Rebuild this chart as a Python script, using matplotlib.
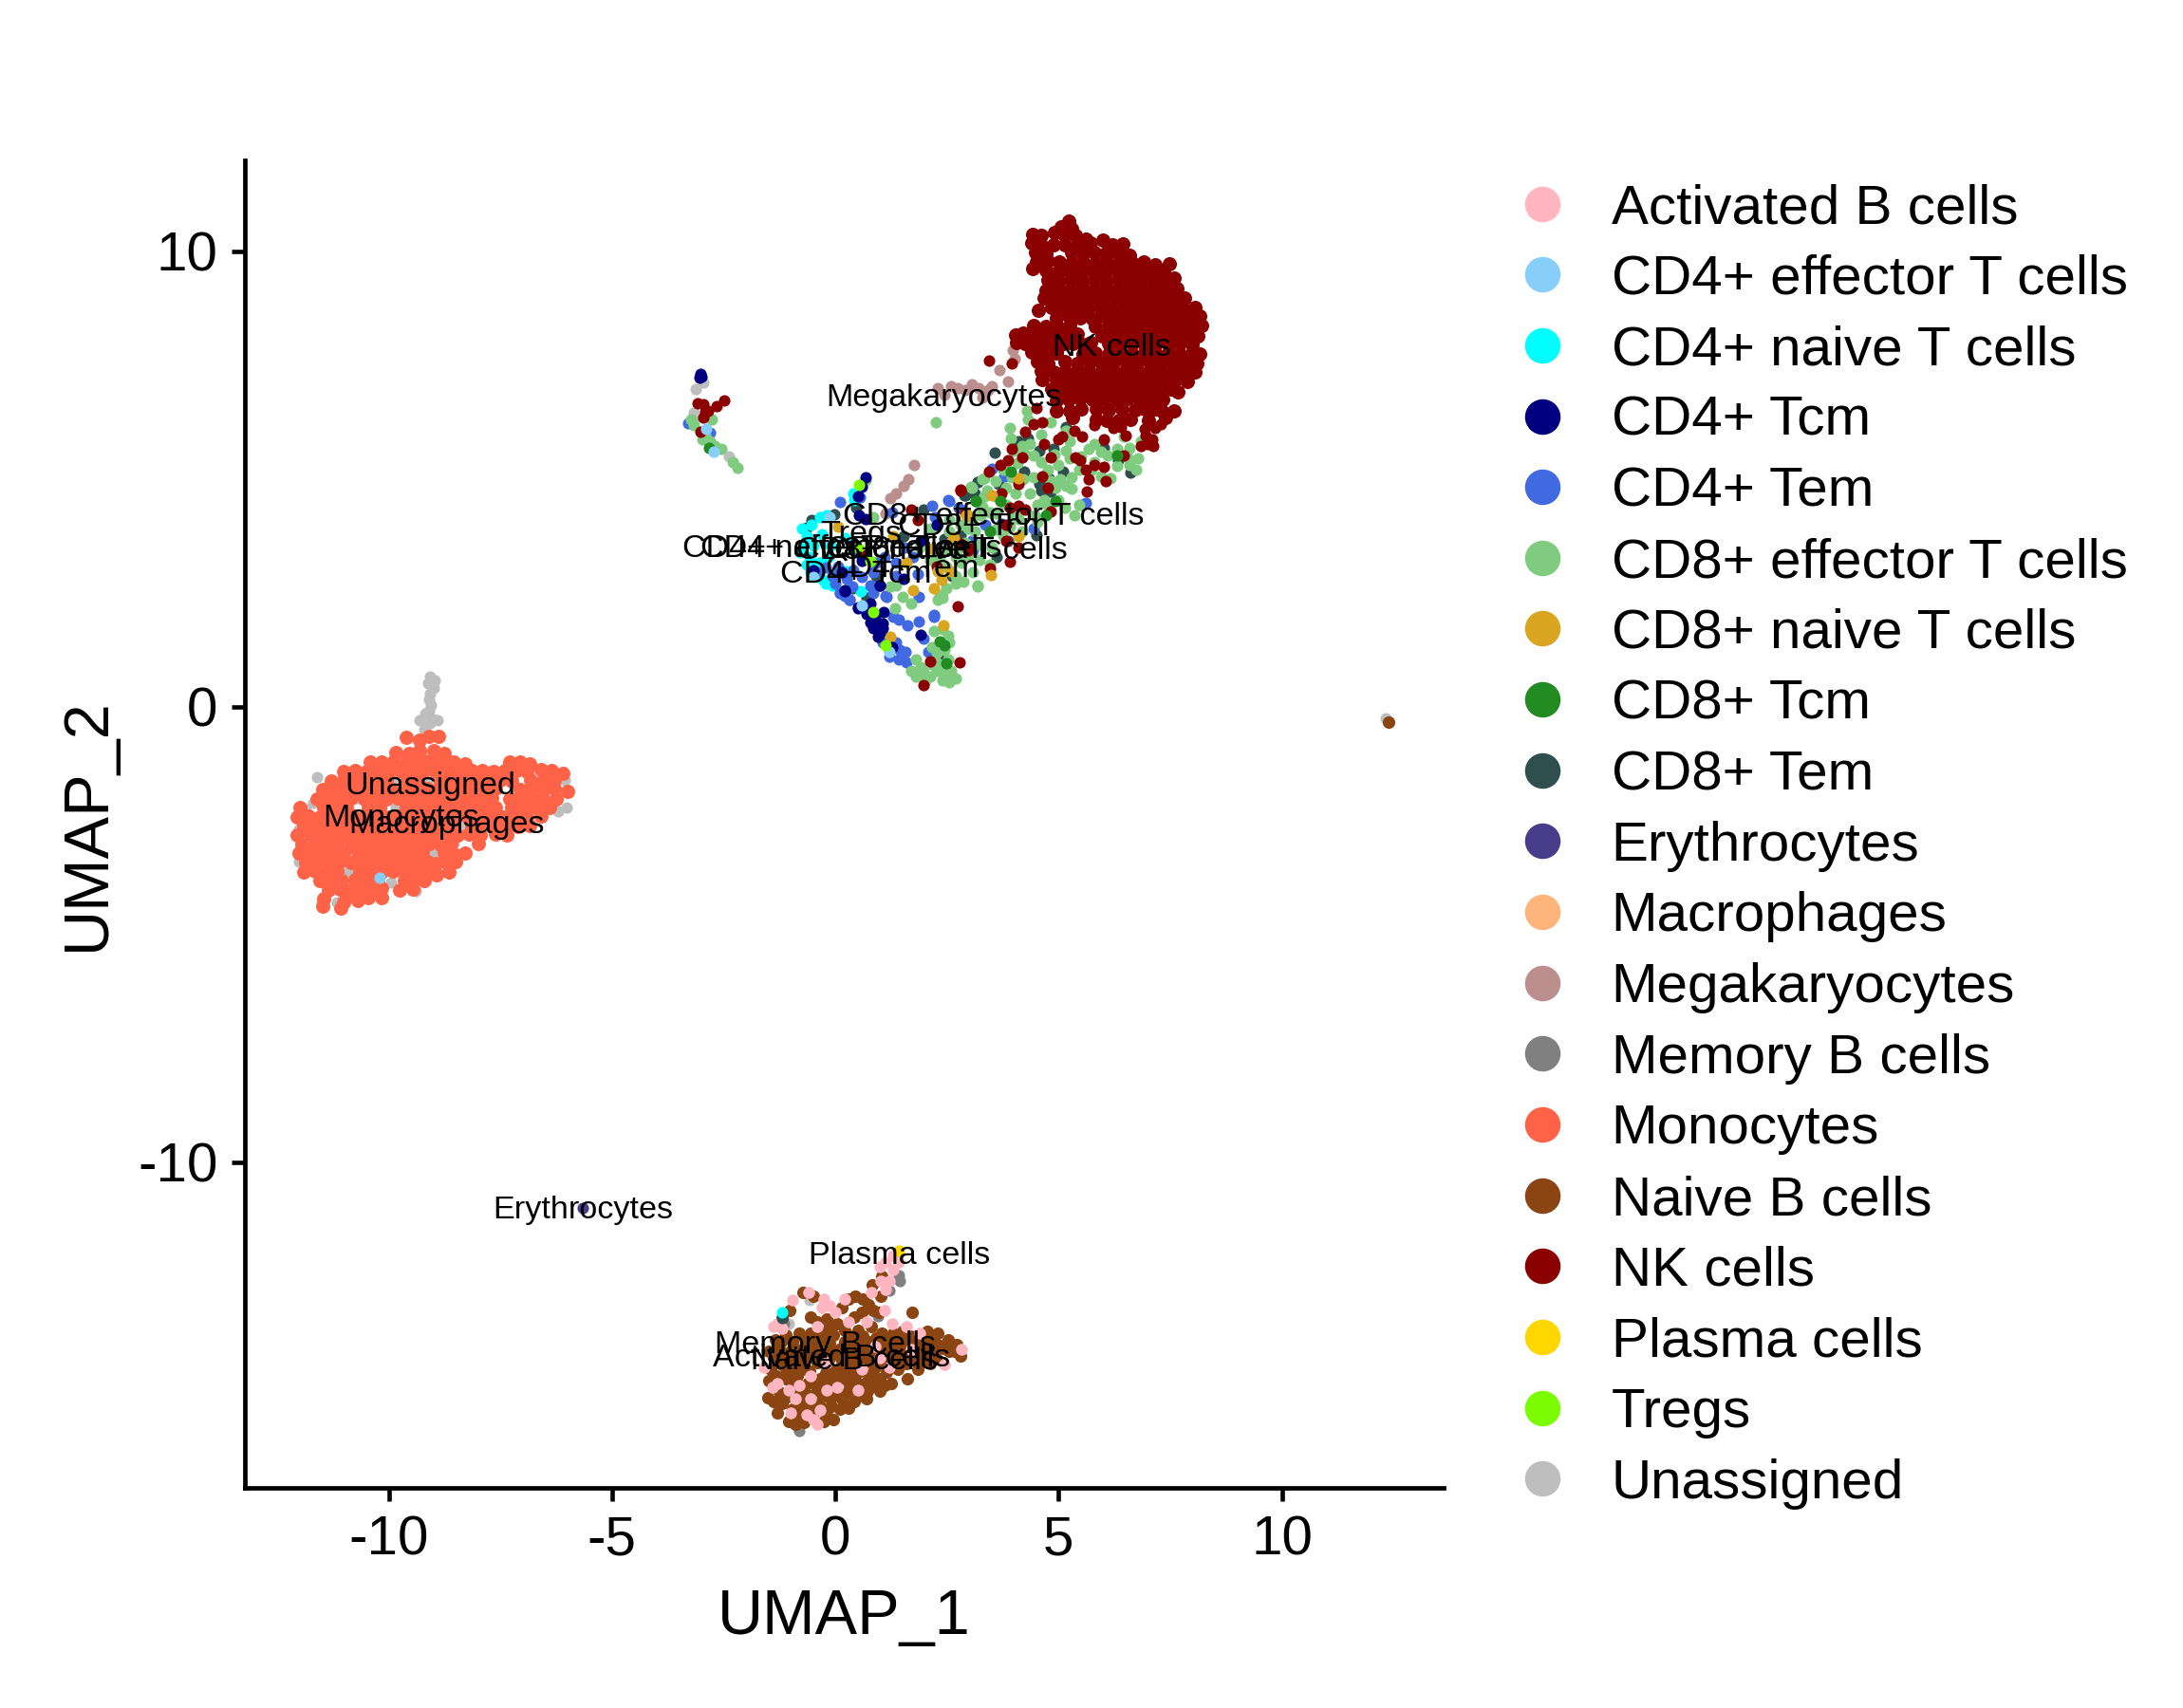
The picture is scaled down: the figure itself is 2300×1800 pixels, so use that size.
import matplotlib
matplotlib.use("Agg")
import matplotlib.pyplot as plt
from matplotlib.lines import Line2D

plt.rcParams['font.family'] = ['Liberation Sans', 'DejaVu Sans']

cell_types = ['Activated B cells', 'CD4+ effector T cells', 'CD4+ naive T cells', 'CD4+ Tcm', 'CD4+ Tem',
              'CD8+ effector T cells', 'CD8+ naive T cells', 'CD8+ Tcm', 'CD8+ Tem', 'Erythrocytes',
              'Macrophages', 'Megakaryocytes', 'Memory B cells', 'Monocytes', 'Naive B cells', 'NK cells',
              'Plasma cells', 'Tregs', 'Unassigned']
colors = ['#FFB6C1', '#87CEFA', '#00FFFF', '#000080', '#4169E1', '#7FCB7F', '#DAA520', '#228B22', '#2F4F4F',
          '#483D8B', '#FDB57B', '#BC8F8F', '#808080', '#FF6347', '#8B4513', '#8B0000', '#FFD700', '#7CFC00',
          '#BEBEBE']

unassigned = [(-9.07,0.66),(-8.98,0.58),(-9.12,0.52),(-9.0,0.42),(-9.08,0.3),(-9.1,0.16),(-9.05,0.04),(-9.1,-0.08),
              (-9.18,-0.14),(-9.31,-0.3),(-9.02,-0.28),(-8.9,-0.3),(-9.08,-0.36),(-9.2,-0.5),(-11.7,-2.1),(-11.85,-2.25),
              (-12.0,-2.7),(-12.0,-3.4),(-8.4,-2.6),(-6.05,-1.6),(-6.02,-2.2),(-9.85,-2.2),(-9.9,-1.6),(-9.1,-1.6),
              (-9.0,-3.2),(-8.55,-3.0),(-10.9,-3.6),(-11.3,-4.0),(-11.15,-4.3),(-9.55,-3.95),(-9.95,-3.85),(-6.2,-2.3),
              (-11.5,-4.32),(-11.6,-1.55),(-10.7,-2.0),(-8.9,-3.6),(-9.4,-4.05),
              (-0.57,-13.03),(-1.05,-13.55),(-0.9,-14.0),(2.0,-14.1),(12.33,-0.25),(-3.12,6.98),(-2.95,7.12),(-3.16,6.46),(-2.38,5.5),
              (1.81,0.76)]
macrophages = [(-9.0,-2.6)]
memory_b = [(1.45,-12.6),(1.42,-12.48),(1.21,-12.82),(0.96,-13.38),(-0.81,-15.9),(-1.15,-13.55),(-0.75,-14.3)]
activated_b = [(1.3,-12.05),(1.12,-12.2),(1.0,-12.3),(1.3,-12.35),(1.2,-12.6),(1.12,-12.8),(0.8,-12.85),(-0.6,-12.85),(-0.95,-13.02),
               (-1.3,-13.55),(-1.38,-13.6),(-0.25,-13.0),(-0.3,-13.2),(0.2,-13.0),(0.0,-13.3),(0.3,-13.5),(0.7,-13.5),(1.1,-13.25),
               (1.28,-13.55),(1.6,-13.6),(1.9,-13.75),(2.82,-14.1),(2.45,-14.45),(1.7,-14.1),(1.0,-14.3),(0.9,-14.05),(-0.4,-13.6),
               (-1.6,-14.5),(-1.3,-14.85),(-1.05,-15.0),(-0.8,-14.9),(-0.55,-15.2),(-1.0,-15.5),(-0.65,-15.55),(-0.35,-15.45),
               (-0.2,-15.0),(-0.9,-15.2),(0.6,-14.55),(0.5,-15.0),(0.05,-14.95),(-0.2,-14.4),(-0.55,-14.7),(1.2,-14.5),(-0.4,-15.75),
               (-0.12,-13.15),(-1.2,-13.65),(1.42,-12.2),(1.02,-12.6),(-0.5,-15.65),(-1.4,-14.95)]
naive_b = [(-0.72,-12.85),(-0.5,-12.95),(-1.02,-13.25),(-1.2,-13.42),(-0.55,-13.4),(-0.4,-13.5),(-0.2,-13.45),(0.05,-13.55),(0.15,-13.2),
           (0.3,-13.0),(0.45,-12.95),(0.62,-13.0),(0.75,-13.12),(0.85,-13.25),(0.98,-13.3),(1.02,-12.95),(0.82,-12.7),(0.6,-13.3),(0.42,-13.4),
           (0.2,-13.7),(0.5,-13.7),(0.8,-13.6),(1.05,-13.75),(1.3,-13.75),(1.5,-13.72),(1.72,-13.3),(1.05,-12.5),
           (2.05,-13.72),(2.3,-13.75),(2.52,-13.9),(2.72,-14.0),(2.8,-14.25),(2.55,-14.15),(2.3,-14.0),(2.05,-14.0),(1.8,-13.95),(1.55,-13.95),
           (1.3,-14.0),(1.05,-13.95),(0.75,-13.95),(0.45,-13.95),(0.2,-13.95),(-0.05,-13.8),(-0.3,-13.8),(-0.55,-13.75),(-0.8,-13.75),(-1.1,-13.8),(-1.35,-13.9),
           (-1.5,-14.15),(-1.25,-14.1),(-1.0,-14.15),(-0.75,-14.1),(-0.5,-14.05),(-0.25,-14.1),(0.0,-14.15),(0.25,-14.2),(0.5,-14.2),(0.75,-14.2),
           (1.0,-14.15),(1.25,-14.25),(1.5,-14.2),(1.75,-14.3),(2.0,-14.3),(2.25,-14.3),(1.62,-14.75),(1.85,-14.55),(1.4,-14.55),(1.15,-14.6),(0.9,-14.5),(0.65,-14.4),
           (0.4,-14.45),(0.15,-14.45),(-0.1,-14.55),(-0.4,-14.4),(-0.7,-14.45),(-0.95,-14.45),(-1.2,-14.45),(-1.45,-14.55),(-1.5,-14.8),(-1.1,-14.75),(-0.85,-14.7),
           (-0.35,-14.75),(-0.1,-14.8),(0.2,-14.75),(0.45,-14.7),(0.75,-14.75),(1.0,-14.75),(1.25,-14.85),(1.0,-15.02),(0.72,-15.02),(0.3,-15.02),
           (-1.52,-15.18),(-1.25,-15.05),(-0.7,-15.02),(-0.4,-15.0),(-0.1,-15.2),(0.15,-15.2),(0.42,-15.25),(0.7,-15.2),(-1.2,-15.3),(-0.75,-15.3),(-0.45,-15.3),
           (-0.8,-15.55),(-0.5,-15.5),(-0.2,-15.55),(0.1,-15.42),(0.3,-15.4),(-1.05,-15.7),(-0.9,-15.75),(-0.7,-15.72),(-0.25,-15.7),(-0.05,-15.65),(-1.3,-15.5),
           (-0.15,-13.65),(0.32,-13.82),(0.62,-13.82),(0.92,-13.85),(1.18,-13.88),(1.42,-13.85),(1.68,-13.82),(1.92,-13.85),(2.18,-13.88),(2.42,-14.08),(2.68,-14.15),(2.12,-14.15),(1.88,-14.15),(1.62,-14.1),
           (1.38,-14.12),(1.12,-14.05),(0.88,-14.28),(0.62,-14.05),(0.38,-14.08),(0.12,-14.08),(-0.12,-13.98),(-0.38,-13.95),(-0.65,-13.92),(-0.95,-13.95),(-1.22,-13.95),(-1.38,-14.3),(-1.12,-14.28),(-0.85,-14.28),
           (-0.6,-14.25),(-0.35,-14.22),(-0.12,-14.3),(0.12,-14.3),(0.38,-14.32),(0.62,-14.28),(1.1,-14.42),(1.35,-14.4),(1.6,-14.42),(1.85,-14.4),(2.12,-14.42),(0.02,-14.62),(0.28,-14.6),(0.55,-14.58),(0.82,-14.62),
           (1.1,-14.9),(0.85,-14.88),(0.58,-14.88),(0.32,-14.88),(0.05,-14.78),(-0.22,-14.62),(-0.58,-14.58),(-0.82,-14.58),(-1.08,-14.6),(-1.32,-14.7),(-0.98,-14.88),(-0.62,-14.85),(-0.42,-14.88),(-0.18,-14.92),
           (-1.38,-15.25),(-1.08,-15.15),(-0.85,-15.08),(-0.58,-15.12),(-0.28,-15.12),(0.02,-15.1),(0.2,-15.08),(0.55,-15.12),(-0.95,-15.42),(-0.62,-15.42),(-0.32,-15.38),(-0.08,-15.35),(0.2,-15.32)]
plasma = [(1.42,-11.95)]
monocytes = [(-9.6,-0.67),(-9.3,-0.73),(-9.1,-0.64),(-8.88,-0.65),(-9.3,-0.95),
             (-9.84,-1.0),(-9.55,-1.02),(-9.3,-0.98),(-9.0,-0.95),(-8.75,-1.02),
             (-10.41,-1.22),(-10.15,-1.2),(-9.9,-1.2),(-9.6,-1.22),(-9.35,-1.2),(-9.1,-1.18),(-8.85,-1.22),(-8.55,-1.2),(-8.28,-1.25),(-7.3,-1.22),(-7.05,-1.2),(-6.85,-1.25),
             (-11.0,-1.42),(-10.75,-1.4),(-10.5,-1.42),(-10.25,-1.4),(-10.0,-1.42),(-9.75,-1.4),(-9.5,-1.42),(-9.2,-1.4),(-8.95,-1.42),(-8.7,-1.4),(-8.42,-1.42),(-8.15,-1.4),(-7.9,-1.4),(-7.65,-1.42),(-7.4,-1.4),(-7.15,-1.4),(-6.9,-1.42),(-6.6,-1.38),(-6.35,-1.4),(-6.1,-1.45),
             (-11.28,-1.62),(-11.02,-1.6),(-10.8,-1.62),(-10.55,-1.6),(-10.3,-1.62),(-10.05,-1.6),(-9.6,-1.62),(-9.35,-1.6),(-8.85,-1.62),(-8.55,-1.6),(-8.3,-1.62),(-8.05,-1.6),(-7.8,-1.62),(-7.5,-1.6),(-7.25,-1.62),(-6.82,-1.6),(-6.55,-1.62),(-6.3,-1.6),
             (-11.48,-1.82),(-11.2,-1.8),(-10.95,-1.82),(-10.65,-1.8),(-10.4,-1.82),(-10.15,-1.8),(-9.9,-1.82),(-9.65,-1.8),(-9.4,-1.82),(-9.15,-1.8),(-8.9,-1.82),(-8.65,-1.8),(-8.4,-1.82),(-8.15,-1.8),(-7.85,-1.82),(-7.6,-1.8),(-7.05,-1.82),(-6.8,-1.8),(-6.55,-1.82),(-6.3,-1.8),(-6.0,-1.85),
             (-11.6,-2.02),(-11.35,-2.0),(-11.1,-2.02),(-10.85,-2.0),(-10.55,-2.02),(-10.3,-2.0),(-10.05,-2.02),(-9.8,-2.0),(-9.55,-2.02),(-9.25,-2.0),(-9.0,-2.02),(-8.75,-2.0),(-8.5,-2.02),(-8.2,-2.0),(-7.95,-2.02),(-7.7,-2.0),(-7.3,-2.02),(-7.05,-2.0),(-6.8,-2.02),(-6.55,-2.0),(-6.25,-2.02),
             (-11.98,-2.22),(-11.45,-2.2),(-11.2,-2.22),(-10.95,-2.2),(-10.45,-2.22),(-10.2,-2.2),(-9.6,-2.22),(-9.35,-2.2),(-9.1,-2.22),(-8.85,-2.2),(-8.6,-2.22),(-8.35,-2.2),(-8.1,-2.22),(-7.85,-2.2),(-7.6,-2.22),(-7.25,-2.2),(-6.95,-2.22),(-6.7,-2.2),(-6.4,-2.22),
             (-12.05,-2.42),(-11.8,-2.4),(-11.55,-2.42),(-11.3,-2.4),(-11.05,-2.42),(-10.8,-2.4),(-10.55,-2.42),(-10.3,-2.4),(-10.05,-2.42),(-9.8,-2.4),(-9.55,-2.42),(-9.3,-2.4),(-9.05,-2.42),(-8.75,-2.4),(-8.5,-2.42),(-8.25,-2.4),(-7.95,-2.42),(-7.7,-2.4),(-7.45,-2.42),(-7.15,-2.4),(-6.9,-2.42),(-6.6,-2.4),
             (-11.9,-2.62),(-11.65,-2.6),(-11.4,-2.62),(-11.15,-2.6),(-10.9,-2.62),(-10.65,-2.6),(-10.4,-2.62),(-10.15,-2.6),(-9.9,-2.62),(-9.65,-2.6),(-9.4,-2.62),(-9.15,-2.6),(-8.8,-2.62),(-8.55,-2.6),(-8.15,-2.62),(-7.9,-2.6),(-7.6,-2.62),(-7.35,-2.6),(-7.1,-2.62),(-6.85,-2.6),
             (-12.05,-2.82),(-11.75,-2.8),(-11.5,-2.82),(-11.25,-2.8),(-11.0,-2.82),(-10.75,-2.8),(-10.5,-2.82),(-10.25,-2.8),(-10.0,-2.82),(-9.75,-2.8),(-9.5,-2.82),(-9.25,-2.8),(-9.0,-2.82),(-8.75,-2.8),(-8.45,-2.82),(-8.2,-2.8),(-7.95,-2.82),(-7.6,-2.8),(-7.35,-2.82),
             (-11.95,-3.02),(-11.65,-3.0),(-11.4,-3.02),(-11.15,-3.0),(-10.85,-3.02),(-10.6,-3.0),(-10.35,-3.02),(-10.1,-3.0),(-9.85,-3.02),(-9.6,-3.0),(-9.35,-3.02),(-9.1,-3.0),(-8.85,-3.02),(-8.6,-3.0),(-8.0,-3.0),
             (-12.0,-3.22),(-11.78,-3.2),(-11.5,-3.22),(-11.25,-3.2),(-11.0,-3.22),(-10.7,-3.2),(-10.45,-3.22),(-10.2,-3.2),(-9.95,-3.22),(-9.7,-3.2),(-9.45,-3.22),(-9.25,-3.2),(-8.75,-3.22),(-8.5,-3.25),(-8.3,-3.22),
             (-11.85,-3.42),(-11.6,-3.4),(-11.35,-3.42),(-11.1,-3.4),(-10.85,-3.42),(-10.6,-3.4),(-10.35,-3.42),(-10.1,-3.4),(-9.85,-3.42),(-9.6,-3.4),(-9.35,-3.42),(-9.15,-3.4),(-8.95,-3.45),(-8.7,-3.42),(-8.5,-3.4),
             (-11.9,-3.62),(-11.65,-3.6),(-11.4,-3.62),(-11.15,-3.6),(-10.65,-3.62),(-10.4,-3.6),(-10.15,-3.62),(-9.9,-3.6),(-9.65,-3.62),(-9.4,-3.6),(-9.15,-3.62),(-8.93,-3.7),(-8.65,-3.62),
             (-11.55,-3.82),(-11.3,-3.8),(-11.05,-3.82),(-10.75,-3.8),(-10.5,-3.82),(-10.25,-3.8),(-9.65,-3.82),(-9.4,-3.8),(-9.2,-3.82),
             (-11.35,-4.02),(-11.1,-4.0),(-10.85,-4.02),(-10.6,-4.0),(-10.35,-4.02),(-10.15,-3.98),(-9.75,-4.02),(-9.45,-4.0),
             (-11.45,-4.22),(-10.95,-4.2),(-10.7,-4.25),(-10.45,-4.2),(-10.15,-4.18),(-11.48,-4.38),(-11.08,-4.42),(-11.0,-4.3)]
nk_cells = [(5.05,10.55),(5.22,10.67),(5.3,10.5),
            (4.42,10.38),(4.6,10.35),(4.9,10.42),(5.12,10.38),(5.38,10.35),(5.6,10.28),(6.0,10.25),
            (4.39,10.18),(4.62,10.15),(4.88,10.15),(5.15,10.15),(5.42,10.12),(5.72,10.18),(6.2,10.15),(6.44,10.17),
            (4.48,9.98),(4.72,9.95),(5.3,9.98),(5.55,9.95),(5.8,9.98),(6.05,9.95),(6.3,9.98),(6.58,9.92),
            (4.5,9.78),(4.75,9.8),(5.02,9.78),(5.28,9.75),(5.55,9.78),(5.82,9.75),(6.08,9.78),(6.35,9.76),(6.62,9.78),(6.9,9.78),(7.15,9.7),
            (4.42,9.62),(4.72,9.58),(4.98,9.55),(5.22,9.58),(5.48,9.55),(5.75,9.58),(6.02,9.55),(6.28,9.58),(6.55,9.55),(6.82,9.58),(7.08,9.55),(7.35,9.58),(7.48,9.72),
            (4.75,9.38),(5.02,9.35),(5.28,9.38),(5.55,9.35),(5.82,9.38),(6.08,9.35),(6.35,9.38),(6.62,9.35),(6.88,9.38),(7.15,9.35),(7.42,9.38),(7.58,9.42),
            (4.72,9.15),(4.98,9.18),(5.25,9.15),(5.52,9.18),(5.78,9.15),(6.05,9.18),(6.32,9.15),(6.58,9.18),(6.85,9.15),(7.12,9.18),(7.38,9.15),(7.65,9.18),
            (4.68,8.98),(4.92,8.95),(5.18,8.98),(5.45,8.95),(5.72,8.98),(5.98,8.95),(6.25,8.98),(6.52,8.95),(6.78,8.98),(7.05,8.95),(7.32,8.98),(7.58,8.95),(7.82,8.98),
            (4.55,8.71),(4.85,8.78),(5.12,8.75),(5.38,8.78),(5.65,8.75),(5.92,8.78),(6.18,8.75),(6.45,8.78),(6.72,8.75),(6.98,8.78),(7.25,8.75),(7.52,8.78),(7.78,8.75),(8.05,8.78),
            (4.95,8.55),(5.22,8.58),(5.48,8.55),(5.75,8.52),(6.02,8.58),(6.28,8.55),(6.55,8.58),(6.82,8.55),(7.08,8.58),(7.35,8.55),(7.62,8.58),(7.88,8.55),(8.15,8.58),
            (4.45,8.38),(4.72,8.35),(4.98,8.35),(5.25,8.38),(5.82,8.35),(6.12,8.38),(6.38,8.35),(6.65,8.38),(6.92,8.35),(7.18,8.38),(7.45,8.35),(7.72,8.38),(7.98,8.35),(8.2,8.38),
            (4.04,8.17),(4.2,8.2),(4.35,8.18),(4.62,8.15),(4.88,8.18),(5.15,8.15),(5.42,8.18),(5.98,8.15),(6.25,8.18),(6.52,8.15),(6.78,8.18),(7.05,8.15),(7.32,8.18),(7.58,8.15),(7.85,8.18),(8.12,8.15),
            (4.05,8.0),(4.25,7.98),(4.5,7.95),(4.78,7.98),(5.05,7.95),(5.32,7.98),(5.55,7.95),(5.72,8.0),(6.12,7.98),(6.38,7.95),(6.65,7.98),(6.92,7.95),(7.18,7.98),(7.45,7.95),(7.72,7.98),(7.98,7.95),
            (4.4,7.8),(4.68,7.78),(4.95,7.78),(5.55,7.75),(5.82,7.78),(6.12,7.75),(6.38,7.78),(6.65,7.75),(6.92,7.78),(7.18,7.75),(7.45,7.78),(7.72,7.75),(7.98,7.78),(8.15,7.75),
            (4.53,7.58),(4.75,7.55),(5.15,7.58),(5.42,7.55),(5.72,7.58),(5.98,7.55),(6.25,7.58),(6.52,7.55),(6.78,7.58),(7.05,7.55),(7.32,7.58),(7.58,7.55),(7.85,7.58),(8.1,7.55),
            (4.62,7.38),(4.88,7.35),(5.15,7.38),(5.42,7.35),(5.68,7.38),(5.95,7.35),(6.22,7.38),(6.48,7.35),(6.75,7.38),(7.02,7.35),(7.28,7.38),(7.55,7.35),(7.82,7.38),(8.05,7.35),
            (4.63,7.19),(4.95,7.18),(5.22,7.15),(5.48,7.18),(5.75,7.15),(6.02,7.18),(6.28,7.15),(6.55,7.18),(6.82,7.15),(7.08,7.18),(7.35,7.15),(7.62,7.18),(7.88,7.15),
            (4.85,6.98),(5.12,6.95),(5.38,6.98),(5.65,6.95),(5.92,6.98),(6.18,6.95),(6.45,6.98),(6.72,6.95),(6.98,6.98),(7.25,6.95),(7.52,6.98),(7.66,6.92),
            (4.96,6.72),(5.22,6.75),(5.48,6.78),(5.75,6.75),(6.02,6.78),(6.28,6.75),(6.55,6.78),(6.82,6.75),(7.08,6.78),(7.32,6.75),(7.15,6.55),
            (4.96,6.5),(5.25,6.5),(5.5,6.55),(5.85,6.55),(6.12,6.52),(6.42,6.55),(6.72,6.52),(6.92,6.55),(7.3,6.5),(7.59,6.5),
            (5.32,6.35),(5.85,6.32),(6.08,6.3),(6.35,6.3),(6.6,6.32),(7.02,6.3),(7.4,6.35)]
nk_band = [(5.8,6.18),(6.22,6.12),(6.4,6.15),(6.92,6.1),(7.15,6.12),(7.28,6.2),(6.5,5.95),(6.95,5.95),(7.1,5.88),(6.85,5.73),(7.12,5.73),
           (3.44,7.6),(3.95,7.55),(4.5,6.56),(4.25,6.04),(4.43,6.21),(4.64,6.25),(4.68,5.76),(3.95,5.66),(3.86,5.41),(3.7,5.32),(3.44,5.16),(4.18,5.48),(4.64,5.07),(4.75,4.82),
           (4.82,5.48),(4.99,5.87),(5.07,5.94),(5.38,5.48),(5.49,5.41),(5.67,5.0),(5.6,5.21),(5.81,5.32),(6.02,5.28),(6.06,4.96),(5.35,6.07),(5.53,5.94),(6.02,5.87),(6.45,5.52),(6.98,5.76),
           (5.63,4.72),(2.81,4.75),(3.72,4.69),(4.11,4.89),(4.11,4.41),(3.9,4.37),(4.82,4.3),(4.25,4.34),(3.83,3.99),(4.11,3.5),(3.9,3.19),(3.47,3.05),(2.98,3.44),(3.83,3.64),
           (2.8,4.77),(2.73,2.2),(1.84,4.1),(2.27,3.09),(1.7,4.34),(2.9,4.27),(2.8,3.58),(3.0,3.47),(0.67,3.33),(2.78,0.97),(1.98,0.48),(2.13,1.0)]
nk_island = [(-3.09,6.66),(-2.95,6.65),(-2.48,6.73),(-2.66,6.6),(-2.84,6.49),(-2.95,6.35),(-2.92,6.47),(-3.03,6.04)]
cd8_tem = [(3.56,5.59),(4.22,5.17),(4.89,5.66),(4.57,4.89),(4.6,4.75),(4.83,4.72),(4.11,5.83),(4.32,5.9),(4.57,5.62),(3.65,4.89),(3.19,4.93),(3.12,4.69),(2.9,4.65),(5.53,4.44),(4.5,3.78),
           (3.86,3.64),(3.61,3.3),(2.8,3.78),(5.17,6.14),(6.02,5.69),(6.61,5.14),(5.09,5.17),(6.33,5.41),(4.78,5.03),(-0.64,3.94),(-0.53,4.1),(-0.03,4.22),(0.46,4.38),(2.88,4.65),(1.98,4.34),
           (1.52,3.75),(2.44,3.68),(2.76,3.75),(3.19,4.93),(0.74,2.4),(0.39,2.6),(0.96,2.88),(2.62,2.88),(2.37,1.11),(0.89,1.87),(0.71,2.39),(0.92,2.88),(-1.19,-13.42)]
cd4_naive = [(-0.35,4.17),(-0.2,4.2),(-0.53,3.99),(-0.74,3.92),(-0.64,3.75),(-0.71,3.58),(-0.78,3.4),(-0.57,3.3),(-0.35,3.16),(-0.21,2.71),(-0.07,2.67),(0.57,2.54),(0.41,4.69),(0.43,4.55),
             (-0.5,3.55),(-0.3,3.8),(-0.1,3.55),(-0.45,3.15),(-0.65,3.12),(-0.55,2.95),(-0.28,2.78),(-0.15,3.3),(0.2,3.7),(0.25,2.98),(-1.19,-13.3)]
cd4_tem = [(3.5,5.23),(3.79,5.07),(5.61,4.48),(2.55,4.51),(3.36,3.99),(3.72,4.02),(4.43,3.92),(2.76,4.37),(2.52,4.54),(2.16,4.41),(2.23,4.17),(2.3,3.99),(1.28,4.27),(0.07,3.09),(0.11,2.5),(0.32,2.36),
           (0.78,2.67),(1.13,2.43),(1.35,3.16),(3.05,3.65),(3.08,3.44),(0.92,3.16),(2.2,2.02),(0.53,3.37),(0.85,2.95),(1.56,3.5),(-0.21,3.06),(-0.42,2.95),(-0.07,2.88),(0.55,4.6),(0.1,4.5),
           (1.15,2.41),(1.86,2.41),(2.2,1.98),(1.97,1.49),(2.09,1.21),(1.86,1.87),(1.62,1.78),(1.42,1.91),(1.29,1.98),(1.36,1.42),(1.57,1.2),(1.45,1.25),(1.42,1.04),(1.59,0.97),(1.06,1.41),(0.86,1.94),
           (0.32,2.36),(0.11,2.5),(0.39,2.64),(0.81,2.64),(0.85,2.5),(0.25,2.81),(1.35,2.88),(1.84,2.92),(0.6,2.85),(0.0,2.71),(0.21,2.43),(-3.3,6.23),(-2.8,6.03),(1.3,1.3),(1.2,1.1),(0.4,3.0),(1.1,3.3),(1.75,3.3)]
cd8_effector = [(4.29,6.49),(4.32,6.32),(4.83,6.25),(3.9,6.13),(3.92,5.9),(4.6,5.97),(5.17,6.07),(5.24,5.83),(5.17,5.62),(4.36,5.76),(4.18,5.73),(4.0,5.62),(4.07,5.35),(4.43,5.52),(4.6,5.38),(4.25,5.55),
                (4.99,5.31),(5.24,5.45),(5.45,5.21),(5.03,5.0),(5.17,4.86),(5.28,4.79),(4.92,4.82),(4.68,4.55),(4.53,4.44),(4.36,4.69),(4.04,4.69),(3.83,4.82),(3.58,4.96),(3.33,5.03),(3.4,4.75),(3.58,4.62),
                (3.83,4.44),(4.18,4.34),(4.46,4.2),(4.75,4.41),(5.14,4.37),(5.35,4.2),(5.45,4.44),(5.67,5.66),(5.81,5.76),(6.45,5.94),(6.84,5.83),(6.77,5.45),(6.59,5.31),(6.73,5.21),(6.16,5.03),(5.95,5.07),
                (5.81,5.38),(6.09,5.52),(6.3,5.66),(6.59,5.69),(6.55,5.48),(5.74,5.21),(4.82,4.96),(3.05,4.82),(3.33,4.62),(3.47,4.27),(3.97,4.2),(4.53,4.06),(3.19,2.67),(2.87,2.74),(3.26,3.57),(3.51,3.5),
                (3.12,3.85),(3.47,3.12),(2.98,3.3),(2.69,2.88),(4.18,3.85),(3.75,3.78),(4.11,4.13),(3.03,4.83),(3.3,5.0),(3.33,4.62),(3.26,4.2),(3.22,3.23),(2.83,3.16),(2.69,3.3),(2.34,3.3),(2.48,3.09),
                (0.85,4.17),(1.88,3.5),(2.13,3.23),(3.08,2.95),(2.98,3.92),(2.13,3.92),(4.9,5.55),(4.75,5.2),(4.45,5.05),(4.2,5.0),(3.95,5.05),(3.75,5.2),(5.0,4.55),(5.3,5.05),(5.5,5.5),(5.95,5.6),(6.3,5.3),(3.6,4.25),(3.3,4.4),(3.05,4.15),
                (2.8,4.0),(2.55,3.85),(2.5,3.45),(2.9,3.6),(3.6,3.9),(3.9,3.95),(2.55,4.1),(2.75,3.45),
                (1.69,0.8),(1.81,0.66),(1.98,0.76),(2.13,0.66),(2.27,0.8),(2.41,0.59),(2.55,0.55),(2.69,0.62),(2.59,0.8),(2.41,0.87),(2.16,0.93),(2.02,0.59),(1.81,1.04),(2.2,1.67),(2.41,1.7),(2.52,1.56),(2.48,1.39),
                (2.16,1.32),(2.27,1.18),(2.55,1.42),(2.44,1.25),(2.52,1.04),(2.3,2.36),(2.41,2.39),(1.7,2.27),(1.51,2.41),(1.33,2.17),(1.24,2.64),(1.35,2.67),(3.19,2.64),(2.48,2.6),(2.37,2.46),(2.34,2.43),(2.69,2.71),
                (2.3,0.95),(2.45,0.72),(1.92,0.88),(2.6,0.62),
                (2.25,6.24),(0.67,4.97),(-3.19,6.28),(-3.24,6.32),(-3.16,6.18),(-2.77,6.32),(-2.98,5.87),(-2.8,5.83),(-2.92,5.95),(-2.56,5.66),(-2.7,5.72),(-2.29,5.37),(-2.19,5.24)]
cd8_naive = [(3.49,2.89),(4.09,3.75),(4.09,5.03),(2.94,4.2),(2.66,3.71),(2.58,2.98),(3.5,4.65),(0.07,3.96),(1.74,2.57),(2.2,2.6),(2.37,2.78),(1.59,3.16),(2.62,3.65),(2.16,3.47),(2.98,4.2),(2.42,1.8),(1.24,1.53),(1.3,3.75),(2.3,2.98)]
cd8_tcm = [(3.94,5.17),(3.15,4.51),(3.7,4.53),(4.92,4.51),(4.71,4.2),(6.3,5.52),(3.47,3.85),(3.15,4.52),(2.34,1.44),(2.44,1.35),(2.49,0.95),(-2.82,5.69)]
cd4_tcm = [(0.67,5.04),(0.59,4.83),(0.53,4.2),(0.5,4.62),(0.67,4.13),(0.99,2.67),(0.2,2.57),(0.5,2.19),(0.78,2.26),(1.08,2.08),(2.27,3.99),(1.52,2.81),(-0.5,2.99),(0.14,2.95),(1.91,3.65),
           (0.2,2.55),(0.5,2.17),(0.71,2.05),(0.85,1.73),(1.06,1.84),(1.06,1.73),(0.96,1.55),(1.91,1.58),(1.2,1.25),(1.28,1.32),(0.99,2.67),(0.9,1.95),(1.0,1.62),(0.78,1.85),(0.35,3.55),(0.6,3.2),
           (-3.02,7.32),(-3.05,7.22),(-3.0,7.25)]
cd4_effector = [(-0.14,4.17),(-0.5,2.85),(0.6,2.22),(1.2,1.2),(-2.73,5.6),(-2.9,6.1),(-10.2,-3.75)]
tregs = [(0.53,4.88),(0.78,3.2),(0.5,3.5),(0.85,2.08),(1.13,1.35)]
megakaryocytes = [(1.77,5.31),(1.63,5.0),(1.52,4.86),(1.35,4.69),(1.24,4.59),(1.13,4.24),(3.98,7.83),(4.02,7.65),(3.68,7.4),(3.87,7.15),(3.51,7.05),(3.42,6.95),
                  (2.3,7.0),(2.45,6.85),(2.6,7.05),(2.75,7.0),(2.9,6.95),(3.05,7.08),(3.2,7.0),(3.3,6.8)]
erythrocytes = [(-5.65,-11.0)]
naive_b_far = [(12.39,-0.34)]

label_names = ['NK cells', 'Megakaryocytes', 'CD8+ effector T cells', 'CD8+ Tcm', 'CD8+ Tem', 'Tregs',
               'CD4+ naive T cells', 'CD4+ effector T cells', 'CD8+ naive T cells', 'CD4+ Tcm', 'CD4+ Tem',
               'Erythrocytes', 'Plasma cells', 'Memory B cells', 'Activated B cells', 'Naive B cells',
               'Unassigned', 'Monocytes', 'Macrophages']
label_x = [6.18, 2.43, 3.55, 3.1, 1.5, 0.58, -0.39, 0.36, 2.17, 0.47, 1.49, -5.65, 1.44, -0.22, -0.09, 0.19, -9.08, -9.73, -8.7]
label_y = [7.89, 6.79, 4.17, 3.94, 3.44, 3.79, 3.46, 3.46, 3.42, 2.91, 3.02, -11.06, -12.06, -14.01, -14.31, -14.36, -1.74, -2.45, -2.6]

# dense blobs get a larger dot so they close up as in the original
series = [('Unassigned', unassigned, 8.5), ('Macrophages', macrophages, 8.5), ('Memory B cells', memory_b, 8.5),
          ('Naive B cells', naive_b + naive_b_far, 10), ('Activated B cells', activated_b, 9), ('Plasma cells', plasma, 8.5),
          ('Monocytes', monocytes, 13), ('Megakaryocytes', megakaryocytes, 8.5), ('Erythrocytes', erythrocytes, 8.5),
          ('CD8+ Tem', cd8_tem, 8.5), ('CD4+ naive T cells', cd4_naive, 8.5), ('CD4+ Tem', cd4_tem, 8.5),
          ('CD8+ effector T cells', cd8_effector, 8.5), ('NK cells', nk_cells, 13), ('NK cells', nk_band + nk_island, 8.5),
          ('CD8+ naive T cells', cd8_naive, 8.5), ('CD8+ Tcm', cd8_tcm, 8.5), ('CD4+ Tcm', cd4_tcm, 8.5),
          ('CD4+ effector T cells', cd4_effector, 8.5), ('Tregs', tregs, 8.5)]

fig = plt.figure(figsize=(2300 / 300, 1800 / 300), dpi=300)
ax = fig.add_axes([258 / 2300, 232 / 1800, 1263 / 2300, 1399 / 1800])

color_of = dict(zip(cell_types, colors))
for name, pts, size in series:
    ax.scatter([p[0] for p in pts], [p[1] for p in pts], s=size, color=color_of[name], linewidths=0)

for text, x, y in zip(label_names, label_x, label_y):
    ax.text(x, y, text, fontsize=8.2, ha='center', va='center', color='black')

ax.set_xlim(-13.22, 13.62)
ax.set_ylim(-17.15, 12.0)
ax.set_xticks([-10, -5, 0, 5, 10])
ax.set_yticks([-10, 0, 10])
ax.set_xticklabels(['-10', '-5', '0', '5', '10'])
ax.set_yticklabels(['-10', '0', '10'])
ax.tick_params(labelsize=14, width=1.1, length=3.4, pad=3.5)
ax.set_xlabel('UMAP_1', fontsize=16, labelpad=5.5)
ax.set_ylabel('UMAP_2', fontsize=16, labelpad=5)
ax.spines['top'].set_visible(False)
ax.spines['right'].set_visible(False)
ax.spines['left'].set_linewidth(1.13)
ax.spines['bottom'].set_linewidth(1.13)

handles = [Line2D([], [], linestyle='', marker='o', markersize=9, markeredgewidth=0, color=c) for c in colors]
ax.legend(handles, cell_types, loc='upper left', bbox_to_anchor=(1596 / 2300, 1 - 193 / 1800),
          bbox_transform=fig.transFigure, frameon=False, fontsize=14, labelspacing=0.354, handletextpad=0.74,
          handlelength=1.0, borderpad=0, borderaxespad=0)

plt.savefig('out.png', dpi=300)
